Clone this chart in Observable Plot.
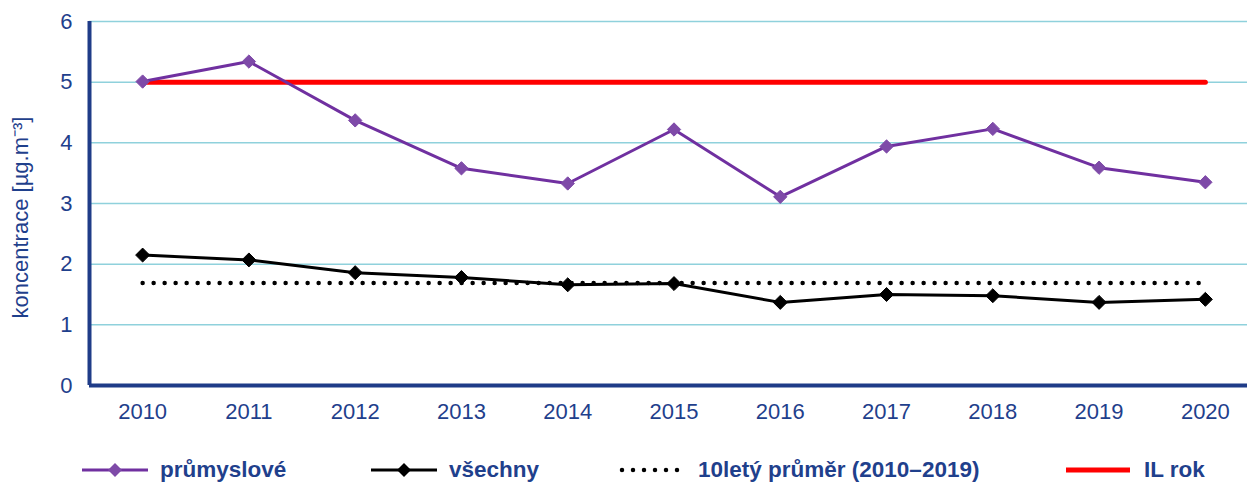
<!DOCTYPE html>
<html>
<head>
<meta charset="utf-8">
<script src="https://cdn.jsdelivr.net/npm/d3@7"></script>
<script src="https://cdn.jsdelivr.net/npm/@observablehq/plot@0.6"></script>
<style>
  html, body { margin: 0; padding: 0; background: #fff; overflow: hidden; }
  #wrap { position: relative; width: 1247px; height: 484px; font-family: "Liberation Sans", Arial, sans-serif; }
  .leg { position: absolute; top: 455px; height: 30px; display: flex; align-items: center; }
  .leg span { font-weight: bold; font-size: 22.5px; color: #1F408C; margin-left: 12px; white-space: nowrap; }
</style>
</head>
<body>
<div id="wrap"></div>
<script>
const years = [2010, 2011, 2012, 2013, 2014, 2015, 2016, 2017, 2018, 2019, 2020];
const prumyslove = [5.01, 5.34, 4.37, 3.58, 3.33, 4.22, 3.11, 3.94, 4.23, 3.59, 3.35];
const vsechny = [2.15, 2.07, 1.86, 1.78, 1.66, 1.68, 1.37, 1.50, 1.48, 1.37, 1.42];
const prumer10 = 1.69;
const ilRok = 5;
const yTicks = [0, 1, 2, 3, 4, 5, 6];
const seriesNames = ["průmyslové", "všechny", "10letý průměr (2010–2019)", "IL rok"];

const textColor = "#1F408C";
const purple = "#7030A0";
const red = "#FF0000";

const rowsP = years.map((y, i) => ({year: y, value: prumyslove[i]}));
const rowsV = years.map((y, i) => ({year: y, value: vsechny[i]}));
const avgRows = [{year: years[0], value: prumer10}, {year: years[years.length - 1], value: prumer10}];
const ilRows = [{year: years[0], value: ilRok}, {year: years[years.length - 1], value: ilRok}];

const chart = Plot.plot({
  width: 1247,
  height: 430,
  marginLeft: 89,
  marginRight: 0,
  marginTop: 21,
  marginBottom: 45,
  style: {fontFamily: "Liberation Sans, Arial, sans-serif", color: textColor, background: "transparent", overflow: "visible"},
  x: {type: "linear", domain: [2009.5, 2020.5], range: [89, 1258]},
  y: {domain: [0, 6]},
  marks: [
    Plot.ruleY(yTicks.filter(d => d > 0), {stroke: "#8FD1DC", strokeWidth: 1.5}),
    Plot.line(ilRows, {x: "year", y: "value", stroke: red, strokeWidth: 5}),
    Plot.line(avgRows, {x: "year", y: "value", stroke: "#000", strokeWidth: 4.5, strokeDasharray: "0 11", strokeLinecap: "round"}),
    Plot.line(rowsV, {x: "year", y: "value", stroke: "#000", strokeWidth: 3}),
    Plot.dot(rowsV, {x: "year", y: "value", symbol: "diamond2", r: 6.3, fill: "#000", stroke: "#000", strokeWidth: 1}),
    Plot.line(rowsP, {x: "year", y: "value", stroke: purple, strokeWidth: 3}),
    Plot.dot(rowsP, {x: "year", y: "value", symbol: "diamond2", r: 6, fill: "#7E4AA8", stroke: "#7E4AA8", strokeWidth: 1}),
    Plot.ruleY([0], {stroke: "#1F3C88", strokeWidth: 4}),
    Plot.ruleX([2009.5], {stroke: "#1F3C88", strokeWidth: 4, y1: 0, y2: 6}),
    Plot.axisY(yTicks, {tickSize: 0, tickPadding: 17, fontSize: 22, label: null, tickFormat: d => String(d), color: textColor}),
    Plot.axisX(years, {tickSize: 0, tickPadding: 18, fontSize: 22, label: null, tickFormat: d => String(d), color: textColor}),
    Plot.text(["koncentrace [µg.m⁻³]"], {frameAnchor: "left", textAnchor: "middle", dx: -69, dy: 14, rotate: -90, fontSize: 22, fill: textColor})
  ]
});
const wrap = document.getElementById("wrap");
wrap.appendChild(chart);

function legendItem(left, swatch, label) {
  const d = document.createElement("div");
  d.className = "leg";
  d.style.left = left + "px";
  d.innerHTML = `<svg width="66" height="20" style="overflow:visible">${swatch}</svg><span>${label}</span>`;
  wrap.appendChild(d);
}
legendItem(82, `<line x1="0" y1="10" x2="66" y2="10" stroke="${purple}" stroke-width="3"/><path d="M33,3 L40,10 L33,17 L26,10Z" fill="#7E4AA8"/>`, seriesNames[0]);
legendItem(371, `<line x1="0" y1="10" x2="66" y2="10" stroke="#000" stroke-width="3"/><path d="M33,3 L40,10 L33,17 L26,10Z" fill="#000"/>`, seriesNames[1]);
legendItem(620, `<line x1="2" y1="10" x2="66" y2="10" stroke="#000" stroke-width="4.5" stroke-dasharray="0 11" stroke-linecap="round"/>`, seriesNames[2]);
legendItem(1066, `<line x1="0" y1="10" x2="64" y2="10" stroke="${red}" stroke-width="5"/>`, seriesNames[3]);
</script>
</body>
</html>
